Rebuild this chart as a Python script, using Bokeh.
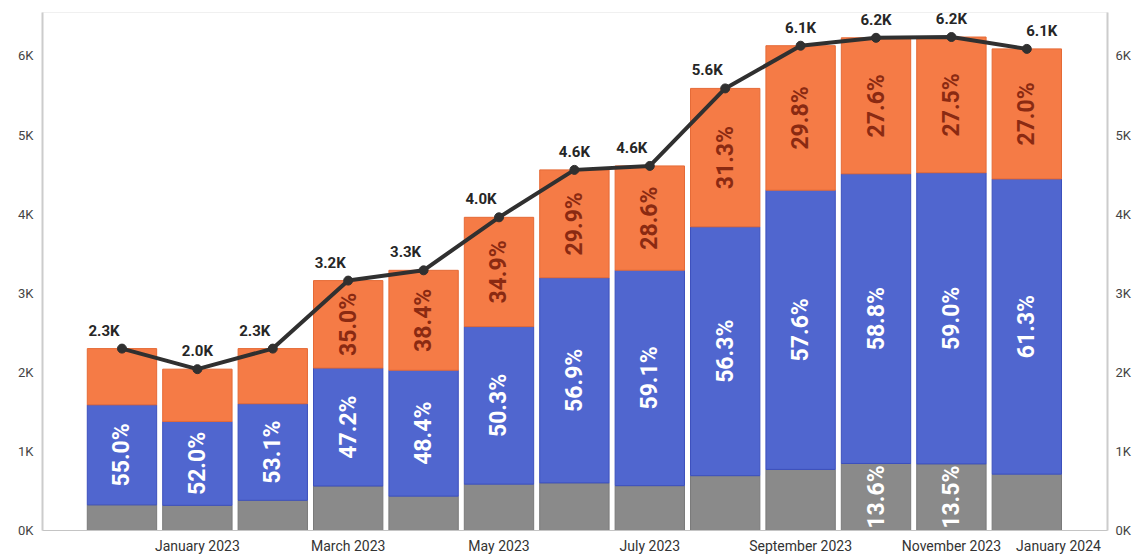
import math
from bokeh.plotting import figure
from bokeh.models import ColumnDataSource, FixedTicker, LinearAxis, Range1d
from bokeh.core.properties import value
from bokeh.embed import file_html
from bokeh.resources import INLINE

# ---- data ----
months = ["Dec 2022", "Jan 2023", "Feb 2023", "Mar 2023", "Apr 2023", "May 2023",
          "Jun 2023", "Jul 2023", "Aug 2023", "Sep 2023", "Oct 2023", "Nov 2023", "Dec 2023"]
totals = [2300, 2040, 2300, 3160, 3290, 3960, 4560, 4610, 5590, 6130, 6230, 6240, 6090]
blue_pct = [55.0, 52.0, 53.1, 47.2, 48.4, 50.3, 56.9, 59.1, 56.3, 57.6, 58.8, 59.0, 61.3]
orange_pct = [30.9, 32.4, 30.3, 35.0, 38.4, 34.9, 29.9, 28.6, 31.3, 29.8, 27.6, 27.5, 27.0]
gray_pct = [14.1, 15.6, 16.6, 17.8, 13.2, 14.8, 13.2, 12.3, 12.4, 12.6, 13.6, 13.5, 11.7]

x_tick_labels = ["January 2023", "March 2023", "May 2023", "July 2023",
                 "September 2023", "November 2023", "January 2024"]
y_tick_values = [0, 1000, 2000, 3000, 4000, 5000, 6000]
y_tick_labels = ["0K", "1K", "2K", "3K", "4K", "5K", "6K"]

# ---- styles ----
GRAY = "#8a8a8a"
BLUE = "#5066cf"
ORANGE = "#f57b46"
FONT = value("Roboto")
label_min = 800          # a segment label is shown only when the segment is tall enough
label_shift = [-18, 0, -18, -18, -18, -18, 0, -18, -18, 0, 0, 0, 15]

n = len(months)
xs = list(range(n))
gray = [t * g / 100 for t, g in zip(totals, gray_pct)]
blue = [t * b / 100 for t, b in zip(totals, blue_pct)]
orange = [t * o / 100 for t, o in zip(totals, orange_pct)]
g_top = gray
b_top = [g + b for g, b in zip(gray, blue)]
o_top = [bt + o for bt, o in zip(b_top, orange)]

src = ColumnDataSource(dict(
    x=xs, month=months, total=totals,
    g_bot=[0] * n, g_top=g_top, b_top=b_top, o_top=o_top,
    total_lbl=[f"{t / 1000:.1f}K" for t in totals],
    shift=label_shift,
))

p = figure(width=1136, height=556, output_backend="svg", toolbar_location=None,
           x_range=Range1d(-1.054, 13.07), y_range=Range1d(0, 6550),
           min_border_left=42, min_border_right=29, min_border_top=12, min_border_bottom=24)
p.xgrid.visible = False
p.ygrid.visible = False
p.outline_line_color = "#f0f0f0"
p.background_fill_color = "white"
p.border_fill_color = "white"

W = 0.92
p.vbar(x="x", width=W, bottom="g_bot", top="g_top", source=src,
       fill_color=GRAY, line_color="#7a7a7a", line_width=1)
p.vbar(x="x", width=W, bottom="g_top", top="b_top", source=src,
       fill_color=BLUE, line_color="#3c50bd", line_width=1)
p.vbar(x="x", width=W, bottom="b_top", top="o_top", source=src,
       fill_color=ORANGE, line_color="#e56a36", line_width=1)

def seg_labels(bottoms, tops, vals, pcts, color):
    d = dict(x=[], y=[], t=[])
    for i in range(n):
        if vals[i] >= label_min:
            d["x"].append(xs[i])
            d["y"].append((bottoms[i] + tops[i]) / 2)
            d["t"].append(f"{pcts[i]:.1f}%")
    p.text(x="x", y="y", text="t", source=ColumnDataSource(d),
           angle=math.pi / 2, text_align="center", text_baseline="middle",
           text_font=FONT, text_font_style="bold", text_font_size="23px",
           text_color=color)

seg_labels([0] * n, g_top, gray, gray_pct, "white")
seg_labels(g_top, b_top, blue, blue_pct, "white")
seg_labels(b_top, o_top, orange, orange_pct, "#8a2a12")

p.line(x="x", y="total", source=src, line_color="#303030", line_width=4)
p.scatter(x="x", y="total", source=src, size=9, fill_color="#303030", line_color="#303030")
p.text(x="x", y="total", text="total_lbl", source=src, x_offset="shift", y_offset=-9,
       text_align="center", text_baseline="bottom", text_font=FONT,
       text_font_style="bold", text_font_size="15px", text_color="#262626")

# x axis
xt = [1, 3, 5, 7, 9, 11, 12.42]
p.xaxis.ticker = FixedTicker(ticks=xt)
p.xaxis.major_label_overrides = {k: v for k, v in zip(xt, x_tick_labels)}
p.xaxis.major_tick_line_color = None
p.xaxis.minor_tick_line_color = None
p.xaxis.axis_line_color = "#c4c4c4"
p.xaxis.major_label_text_font = "Roboto"
p.xaxis.major_label_text_font_size = "14px"
p.xaxis.major_label_text_color = "#333333"
p.xaxis.major_label_standoff = 1

# y axes
p.yaxis.ticker = FixedTicker(ticks=y_tick_values)
p.yaxis.major_label_overrides = dict(zip(y_tick_values, y_tick_labels))
right = LinearAxis(ticker=FixedTicker(ticks=y_tick_values),
                   major_label_overrides=dict(zip(y_tick_values, y_tick_labels)))
p.add_layout(right, "right")
for ax in (p.yaxis[0], right):
    ax.major_tick_line_color = None
    ax.minor_tick_line_color = None
    ax.axis_line_color = "#cccccc"
    ax.axis_line_width = 2
    ax.major_label_text_font = "Roboto"
    ax.major_label_text_font_size = "13px"
    ax.major_label_text_color = "#444444"
p.yaxis[0].major_label_standoff = 3
right.major_label_standoff = 2

open("out.html", "w").write(file_html(p, INLINE))
